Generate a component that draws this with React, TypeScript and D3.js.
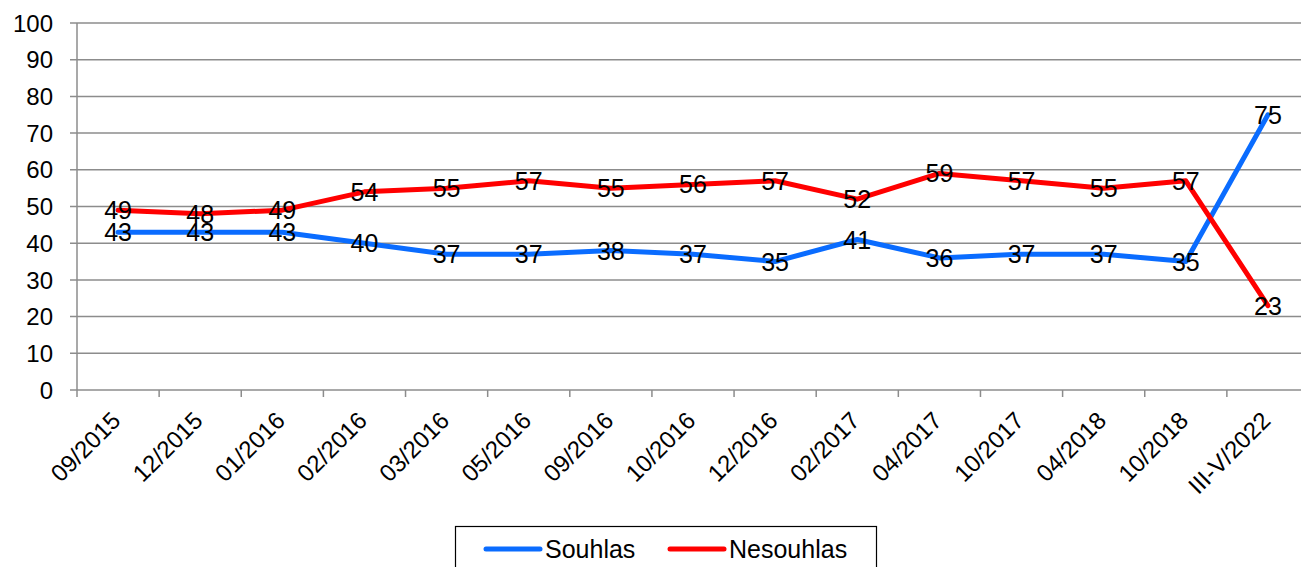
import React from "react";
import * as d3 from "d3";

const categories = ["09/2015","12/2015","01/2016","02/2016","03/2016","05/2016","09/2016","10/2016","12/2016","02/2017","04/2017","10/2017","04/2018","10/2018","III-V/2022"];
const souhlas = [43,43,43,40,37,37,38,37,35,41,36,37,37,35,75];
const nesouhlas = [49,48,49,54,55,57,55,56,57,52,59,57,55,57,23];
const yTicks = [0,10,20,30,40,50,60,70,80,90,100];
const seriesNames = ["Souhlas","Nesouhlas"];
const colors = ["#0A6CFF","#FF0000"];

export default function App() {
  const W = 1301, H = 567;
  const left = 77, right = 1309, top = 23, bottom = 390;
  const x = d3.scaleBand<string>().domain(categories).range([left, right]).padding(0);
  const y = d3.scaleLinear().domain([0, 100]).range([bottom, top]);
  const cx = (c: string) => (x(c) ?? 0) + x.bandwidth() / 2;
  const line = d3.line<number>().x((_, i) => cx(categories[i])).y(v => y(v)).curve(d3.curveLinear);
  const series = [souhlas, nesouhlas];
  const font = "'Liberation Sans', Arial, sans-serif";
  return (
    <svg width={W} height={H} style={{ position: "absolute", left: 0, top: 0 }} fontFamily={font}>
      <rect width={W} height={H} fill="#fff" />
      {yTicks.map(t => (
        <g key={t}>
          <line x1={70} x2={right} y1={y(t)} y2={y(t)} stroke="#8c8c8c" strokeWidth={1.5} />
          <text x={53} y={y(t)} dy="0.36em" textAnchor="end" fontSize={24} fill="#000">{t}</text>
        </g>
      ))}
      <line x1={left} x2={left} y1={top} y2={bottom + 7} stroke="#8c8c8c" strokeWidth={1.5} />
      {categories.map((c, i) => (
        <line key={"t" + i} x1={(x(c) ?? 0) + x.bandwidth()} x2={(x(c) ?? 0) + x.bandwidth()} y1={bottom} y2={bottom + 7} stroke="#8c8c8c" strokeWidth={1.5} />
      ))}
      {categories.map((c, i) => (
        <text key={"l" + i} transform={`translate(${cx(c) + 4},${bottom + 32}) rotate(-45)`} textAnchor="end" fontSize={24} fill="#000">{c}</text>
      ))}
      {series.map((s, k) => (
        <path key={"s" + k} d={line(s) ?? ""} fill="none" stroke={colors[k]} strokeWidth={5} strokeLinejoin="round" strokeLinecap="round" />
      ))}
      {series.map((s, k) => s.map((v, i) => (
        <text key={`v${k}-${i}`} x={cx(categories[i])} y={y(v)} dy="0.36em" textAnchor="middle" fontSize={25} fill="#000">{v}</text>
      )))}
      <rect x={455.5} y={526.5} width={421} height={50} fill="#fff" stroke="#000" strokeWidth={1.2} />
      {seriesNames.map((n, k) => {
        const lx = k === 0 ? 486 : 670;
        return (
          <g key={n}>
            <line x1={lx} x2={lx + 54} y1={549} y2={549} stroke={colors[k]} strokeWidth={5} strokeLinecap="round" />
            <text x={lx + 59} y={549} dy="0.36em" fontSize={25} fill="#000">{n}</text>
          </g>
        );
      })}
    </svg>
  );
}
